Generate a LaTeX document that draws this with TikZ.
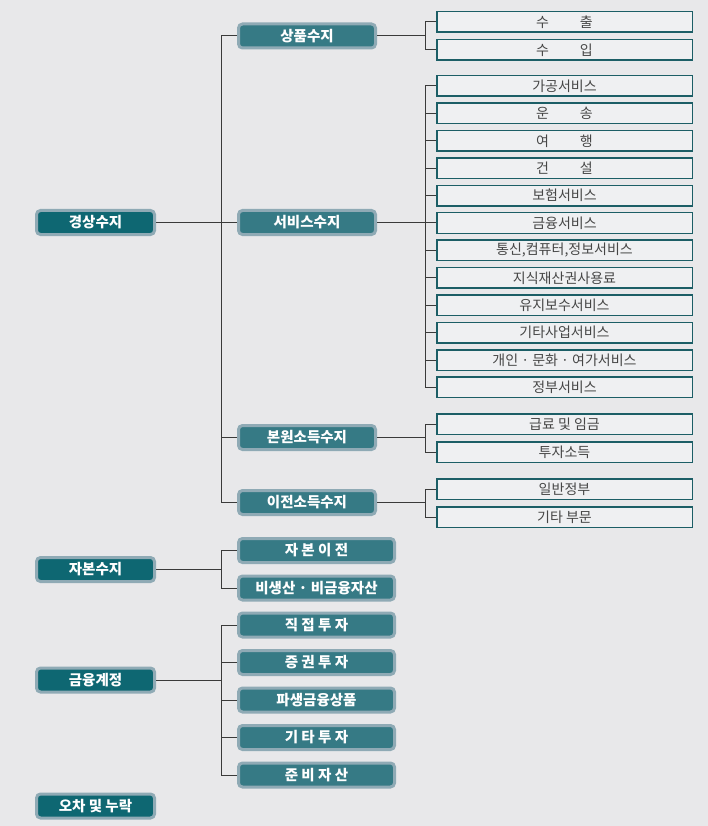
\documentclass[tikz,border=0pt]{standalone}
\usepackage{fontspec}
\setmainfont{Noto Sans CJK KR}
\usepackage{tikz}

\definecolor{bgcol}{HTML}{E8E8EA}
\definecolor{topcol}{HTML}{0E6772}
\definecolor{midcol}{HTML}{367A85}
\definecolor{edgecol}{HTML}{8FAAB5}
\definecolor{leafcol}{HTML}{EFF0F2}
\definecolor{leafline}{HTML}{1C5E66}
\definecolor{leaftext}{HTML}{464646}
\definecolor{linkcol}{HTML}{3A3A3A}

\tikzset{
  topbox/.style={draw=edgecol, line width=3pt, fill=topcol, rounded corners=4pt,
    minimum width=118pt, minimum height=24pt, inner sep=0pt, text=white,
    font=\fontsize{14.5}{15}\selectfont\bfseries},
  midbox/.style={topbox, fill=midcol, minimum width=137pt},
  widebox/.style={midbox, minimum width=156pt},
  leafbox/.style={draw=leafline, line width=1.5pt, fill=leafcol,
    minimum width=255.5pt, minimum height=20.5pt, inner sep=0pt, text=leaftext,
    font=\fontsize{14}{15}\selectfont},
  link/.style={draw=linkcol, line width=1pt}
}

\begin{document}
\begin{tikzpicture}[x=1pt,y=-1pt]
\fill[bgcol] (0,0) rectangle (708,826);
\useasboundingbox (0,0) rectangle (708,826);

% first level
\node[topbox] (kg) at (95.5,222.5) {경상수지};
\node[topbox] (kj) at (95.5,569.5) {자본수지};
\node[topbox] (kf) at (95.5,680) {금융계정};
\node[topbox] (ke) at (95.5,806) {오차 및 누락};

% second level
\node[midbox] (goods) at (307,36) {상품수지};
\node[midbox] (serv) at (307,222.5) {서비스수지};
\node[midbox] (prim) at (307,437.5) {본원소득수지};
\node[midbox] (sec) at (307,502.5) {이전소득수지};
\node[widebox] (c1) at (316.5,550.5) {자 본 이 전};
\node[widebox] (c2) at (316.5,588) {비생산 · 비금융자산};
\foreach \t [count=\i] in {직 접 투 자, 증 권 투 자, 파생금융상품, 기 타 투 자, 준 비 자 산}
  \node[widebox] (f\i) at (316.5,587.5+37.5*\i) {\t};

% leaves
\node[leafbox] (g1) at (564.5,22) {수\hspace{2.2em}출};
\node[leafbox] (g2) at (564.5,50) {수\hspace{2.2em}입};
\foreach \t [count=\i] in {가공서비스, 운\hspace{2.2em}송, 여\hspace{2.2em}행, 건\hspace{2.2em}설,
    보험서비스, 금융서비스, {통신,컴퓨터,정보서비스}, 지식재산권사용료, 유지보수서비스,
    기타사업서비스, 개인 · 문화 · 여가서비스, 정부서비스}
  \node[leafbox] (s\i) at (564.5,58.6+27.4*\i) {\t};
\node[leafbox] (p1) at (564.5,424) {급료 및 임금};
\node[leafbox] (p2) at (564.5,452) {투자소득};
\node[leafbox] (t1) at (564.5,489) {일반정부};
\node[leafbox] (t2) at (564.5,517) {기타 부문};

% first to second level
\draw[link] (kg.east) -- (serv.west);
\draw[link] (goods.west) -- ++(-16,0) |- (sec.west);
\draw[link] (prim.west) -- ++(-16,0);
\draw[link] (kj.east) -- ++(65,0);
\draw[link] (c1.west) -- ++(-16,0) |- (c2.west);
\draw[link] (kf.east) -- ++(65,0);
\draw[link] (f1.west) -- ++(-16,0) |- (f5.west);
\foreach \i in {2,3,4}
  \draw[link] (f\i.west) -- ++(-16,0);

% second level to leaves
\draw[link] (goods.east) -- ++(48,0);
\draw[link] (g1.west) -- ++(-11,0) |- (g2.west);
\draw[link] (serv.east) -- ++(48,0);
\draw[link] (s1.west) -- ++(-11,0) |- (s12.west);
\foreach \i in {2,...,11}
  \draw[link] (s\i.west) -- ++(-11,0);
\draw[link] (prim.east) -- ++(48,0);
\draw[link] (p1.west) -- ++(-11,0) |- (p2.west);
\draw[link] (sec.east) -- ++(48,0);
\draw[link] (t1.west) -- ++(-11,0) |- (t2.west);
\end{tikzpicture}
\end{document}
